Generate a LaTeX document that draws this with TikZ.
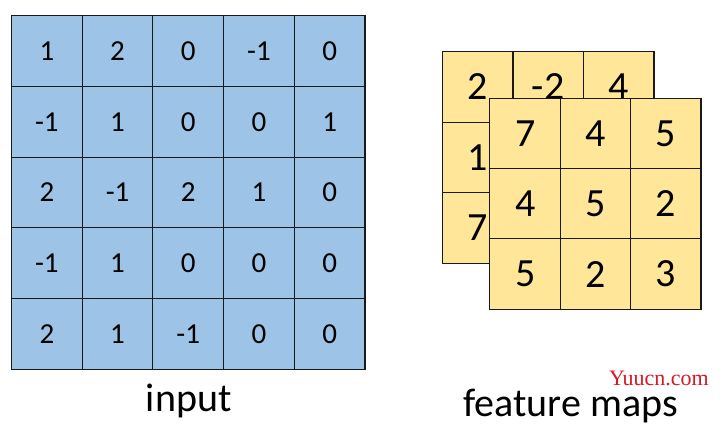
\documentclass[tikz,border=0pt]{standalone}
\usepackage{fontspec}
\setmainfont{Carlito}
\newfontfamily\wmfont{Liberation Serif}
\definecolor{inblue}{HTML}{9DC3E6}
\definecolor{fmyellow}{HTML}{FFE699}
\definecolor{wmred}{RGB}{215,25,35}
\begin{document}
\begin{tikzpicture}[x=1pt,y=-1pt,
  incell/.style={draw=black!90, line width=1.1pt, fill=inblue, minimum size=70.7pt, inner sep=0pt, font=\fontsize{29}{31}\selectfont},
  fmcell/.style={draw=black!90, line width=1.1pt, fill=fmyellow, minimum size=70.5pt, inner sep=0pt, font=\fontsize{40}{44}\selectfont},
  caption/.style={font=\fontsize{40}{44}\selectfont, inner sep=0pt, anchor=base}]
\useasboundingbox[fill=white] (0,0) rectangle (720,432);
% input grid
\foreach \row [count=\r] in {{1,2,0,-1,0},{-1,1,0,0,1},{2,-1,2,1,0},{-1,1,0,0,0},{2,1,-1,0,0}}{
  \foreach \v [count=\c] in \row {
    \node[incell] (i-\r-\c) at ({11.5+70.7*(\c-0.5)},{15.7+70.7*(\r-0.5)}) {\v};
  }
}
% back feature map
\foreach \row [count=\r] in {{2,-2,4},{1,{},{}},{7,{},{}}}{
  \foreach \v [count=\c] in \row {
    \node[fmcell] (b-\r-\c) at ({442.5+70.5*(\c-0.5)},{51.7+70.5*(\r-0.5)}) {\v};
  }
}
% front feature map
\foreach \row [count=\r] in {{7,4,5},{4,5,2},{5,2,3}}{
  \foreach \v [count=\c] in \row {
    \node[fmcell] (f-\r-\c) at ({490+70.3*(\c-0.5)},{98.3+70.3*(\r-0.5)}) {\v};
  }
}
\node[caption] (lin) at (188.7,411) {input};
\node[caption] (lfm) at (570.5,416) {feature maps};
\node[font=\wmfont\fontsize{22}{24}\selectfont, text=wmred, inner sep=0pt] (wm) at (659,378) {Yuucn.com};
\end{tikzpicture}
\end{document}
